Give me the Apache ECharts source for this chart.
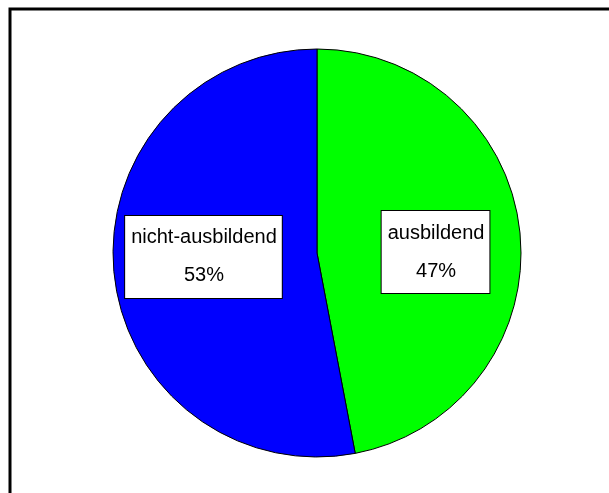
<!DOCTYPE html>
<html>
	<head>
		<meta charset="utf-8">
		<title>ausbildend / nicht-ausbildend</title>
		<script src="https://cdn.jsdelivr.net/npm/echarts@6/dist/echarts.min.js"></script>
		<style type="text/css">
			html, body {
				margin: 0;
				padding: 0;
				background: #ffffff;
			}
			#main {
				width: 609px;
				height: 493px;
			}
		</style>
	</head>
	<body>
		<div id="main"></div>
	</body>
</html>

<script type="text/javascript">
	// Daten
	var names = ['ausbildend', 'nicht-ausbildend'];
	var values = [47, 53];
	var colors = ['#00ff00', '#0000ff'];
	// Verschiebung der Beschriftung je Segment
	var labelShift = [[14, 9], [-9, -6]];

	var pieData = [];
	for (var i = 0; i < names.length; i++) {
		pieData.push({
			name: names[i],
			value: values[i],
			itemStyle: { color: colors[i] }
		});
	}

	var myChart = echarts.init(document.getElementById('main'));

	var option = {
		animation: false,
		// Rahmen oben und links
		graphic: [{
			type: 'rect',
			shape: { x: 10, y: 9, width: 700, height: 600 },
			style: { fill: 'none', stroke: '#000', lineWidth: 3 }
		}],
		series: [{
			type: 'pie',
			center: [317, 253],
			radius: 204,
			startAngle: 90,
			clockwise: true,
			data: pieData,
			itemStyle: {
				borderColor: '#000',
				borderWidth: 1
			},
			label: {
				show: true,
				position: 'inside',
				formatter: function (p) {
					return p.name + '\n' + Math.round(p.percent) + '%';
				},
				fontFamily: 'Liberation Sans, Arial, sans-serif',
				fontSize: 20,
				color: '#000',
				lineHeight: 38,
				align: 'center',
				backgroundColor: '#fff',
				borderColor: '#000',
				borderWidth: 1,
				padding: [3, 5, 3, 6]
			},
			labelLayout: function (params) {
				var s = labelShift[params.dataIndex];
				return { dx: s[0], dy: s[1] };
			},
			labelLine: { show: false },
			emphasis: { disabled: true }
		}]
	};

	myChart.setOption(option);
</script>
